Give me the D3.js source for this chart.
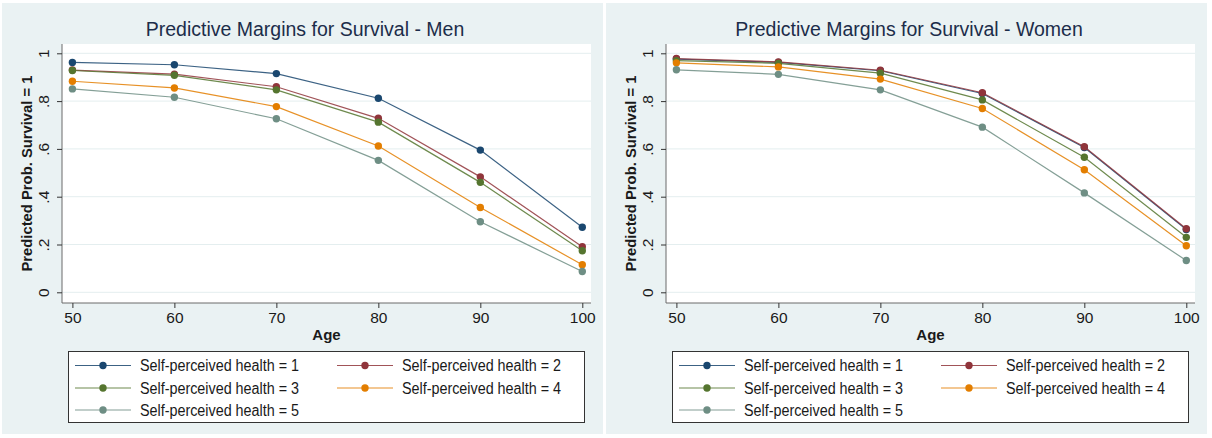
<!DOCTYPE html>
<html>
<head>
<meta charset="utf-8">
<script src="https://cdn.jsdelivr.net/npm/d3@7"></script>
<style>
  html, body { margin: 0; padding: 0; background: #ffffff; }
  svg { display: block; font-family: "Liberation Sans", Arial, sans-serif; }
</style>
</head>
<body>
<svg id="chart" width="1212" height="438"></svg>
<script>
// Age points on the x axis
const ages = [50, 60, 70, 80, 90, 100];

// Predicted probability of survival, men, by self-perceived health level
const menHealth1 = [0.962, 0.952, 0.915, 0.812, 0.595, 0.272];
const menHealth2 = [0.930, 0.913, 0.860, 0.728, 0.483, 0.191];
const menHealth3 = [0.928, 0.908, 0.847, 0.712, 0.460, 0.174];
const menHealth4 = [0.883, 0.855, 0.777, 0.612, 0.355, 0.115];
const menHealth5 = [0.851, 0.816, 0.726, 0.552, 0.295, 0.087];

// Predicted probability of survival, women, by self-perceived health level
const womenHealth1 = [0.976, 0.962, 0.927, 0.832, 0.606, 0.263];
const womenHealth2 = [0.978, 0.964, 0.929, 0.835, 0.609, 0.266];
const womenHealth3 = [0.969, 0.958, 0.917, 0.805, 0.565, 0.230];
const womenHealth4 = [0.960, 0.943, 0.892, 0.769, 0.513, 0.195];
const womenHealth5 = [0.931, 0.912, 0.847, 0.691, 0.416, 0.133];

// Axis ticks and labels
const xTicks = [50, 60, 70, 80, 90, 100];
const yTicks = [0, 0.2, 0.4, 0.6, 0.8, 1];
const yTickLabels = ["0", ".2", ".4", ".6", ".8", "1"];

// Legend entries and series colours
const seriesLabels = [
  "Self-perceived health = 1",
  "Self-perceived health = 2",
  "Self-perceived health = 3",
  "Self-perceived health = 4",
  "Self-perceived health = 5"
];
const seriesColors = ["#1a476f", "#90353b", "#55752f", "#e37e00", "#6e8e84"];

const panelTitles = ["Predictive Margins for Survival - Men", "Predictive Margins for Survival - Women"];

const svg = d3.select("#chart");
const textColor = "#1a1a1a";

function drawPanel(offsetX, title, series) {
  const g = svg.append("g").attr("transform", `translate(${offsetX},0)`);

  // graph region background
  g.append("rect")
    .attr("x", 2).attr("y", 3).attr("width", 601).attr("height", 431)
    .attr("fill", "#eaf2f3");

  const plot = { left: 62, right: 591, top: 44, bottom: 303 };

  // plot region
  g.append("rect")
    .attr("x", plot.left).attr("y", plot.top)
    .attr("width", plot.right - plot.left).attr("height", plot.bottom - plot.top)
    .attr("fill", "#ffffff");

  const x = d3.scaleLinear().domain([50, 100]).range([72.4, 582.3]);
  const y = d3.scaleLinear().domain([0, 1]).range([292.3, 53.3]);

  // horizontal grid lines
  g.append("g").selectAll("line").data(yTicks).join("line")
    .attr("x1", plot.left).attr("x2", plot.right)
    .attr("y1", d => y(d)).attr("y2", d => y(d))
    .attr("stroke", "#e4eeef").attr("stroke-width", 1);

  // y axis with vertical tick labels
  const yAxis = d3.axisLeft(y).tickValues(yTicks)
    .tickFormat((d, i) => yTickLabels[i]).tickSize(5);
  const yg = g.append("g").attr("transform", `translate(${plot.left},0)`).call(yAxis);
  yg.select(".domain").attr("stroke", "#6b6b6b").attr("d", `M0,${plot.top}V${plot.bottom}`);
  yg.selectAll(".tick line").attr("stroke", "#333");
  yg.selectAll(".tick text")
    .attr("fill", textColor).attr("font-size", 15.5)
    .attr("font-family", "Liberation Sans, Arial, sans-serif")
    .attr("text-anchor", "middle")
    .attr("x", null).attr("y", 0)
    .attr("transform", "translate(-19,0) rotate(-90)")
    .attr("dy", "0.36em");

  // x axis
  const xAxis = d3.axisBottom(x).tickValues(xTicks).tickSize(5).tickPadding(4);
  const xg = g.append("g").attr("transform", `translate(0,${plot.bottom})`).call(xAxis);
  xg.select(".domain").attr("stroke", "#6b6b6b").attr("d", `M${plot.left},0H${plot.right}`);
  xg.selectAll(".tick line").attr("stroke", "#333");
  xg.selectAll(".tick text")
    .attr("fill", textColor).attr("font-size", 15.5)
    .attr("font-family", "Liberation Sans, Arial, sans-serif");

  // axis titles
  g.append("text")
    .attr("x", (plot.left + plot.right) / 2).attr("y", 340)
    .attr("text-anchor", "middle").attr("font-size", 15).attr("font-weight", "bold")
    .attr("fill", textColor).text("Age");

  g.append("text")
    .attr("transform", `translate(32,${(plot.top + plot.bottom) / 2}) rotate(-90)`)
    .attr("text-anchor", "middle").attr("font-size", 15).attr("font-weight", "bold")
    .attr("textLength", 196).attr("lengthAdjust", "spacingAndGlyphs")
    .attr("fill", textColor).text("Predicted Prob. Survival = 1");

  // title
  g.append("text")
    .attr("x", 305).attr("y", 36)
    .attr("text-anchor", "middle").attr("font-size", 19.5)
    .attr("fill", "#1c2d4a").text(title);

  // series lines and markers
  const line = d3.line().x((d, i) => x(ages[i])).y(d => y(d));
  series.forEach((vals, s) => {
    const sg = g.append("g");
    sg.append("path").datum(vals)
      .attr("d", line).attr("fill", "none")
      .attr("stroke", seriesColors[s]).attr("stroke-width", 1.2)
      .attr("stroke-opacity", 0.85);
    sg.selectAll("circle").data(vals).join("circle")
      .attr("cx", (d, i) => x(ages[i])).attr("cy", d => y(d))
      .attr("r", 3.7).attr("fill", seriesColors[s]);
  });

  // legend
  const lg = g.append("g");
  lg.append("rect")
    .attr("x", 68.5).attr("y", 351.5).attr("width", 516).attr("height", 71)
    .attr("fill", "#ffffff").attr("stroke", "#333").attr("stroke-width", 1);
  const colX = [75, 337];
  const rowY = [365.5, 388, 410];
  seriesLabels.forEach((label, i) => {
    const cx = colX[i % 2];
    const cy = rowY[Math.floor(i / 2)];
    lg.append("line")
      .attr("x1", cx).attr("x2", cx + 56).attr("y1", cy).attr("y2", cy)
      .attr("stroke", seriesColors[i]).attr("stroke-width", 1.2).attr("stroke-opacity", 0.85);
    lg.append("circle").attr("cx", cx + 28).attr("cy", cy).attr("r", 3.7).attr("fill", seriesColors[i]);
    lg.append("text")
      .attr("x", cx + 65).attr("y", cy).attr("dy", "0.36em")
      .attr("font-size", 16).attr("fill", textColor)
      .attr("textLength", 159).attr("lengthAdjust", "spacingAndGlyphs")
      .text(label);
  });
}

drawPanel(0, panelTitles[0], [menHealth1, menHealth2, menHealth3, menHealth4, menHealth5]);
drawPanel(604, panelTitles[1], [womenHealth1, womenHealth2, womenHealth3, womenHealth4, womenHealth5]);
</script>
</body>
</html>
